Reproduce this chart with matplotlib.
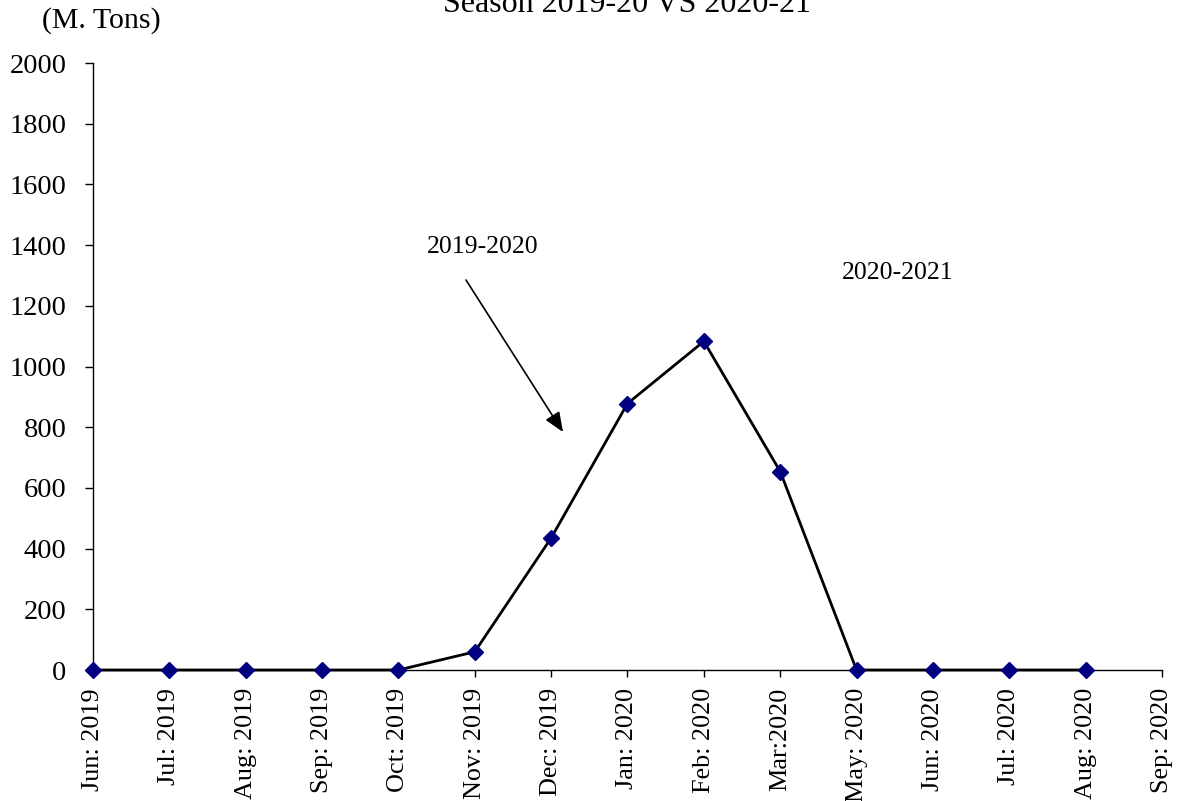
import numpy as np
import matplotlib
matplotlib.use("Agg")
import matplotlib.pyplot as plt

plt.rcParams['font.family'] = ['Liberation Serif', 'DejaVu Serif']

categories = ["Jun: 2019", "Jul: 2019", "Aug: 2019", "Sep: 2019", "Oct: 2019",
              "Nov: 2019", "Dec: 2019", "Jan: 2020", "Feb: 2020", "Mar:2020",
              "May: 2020", "Jun: 2020", "Jul: 2020", "Aug: 2020", "Sep: 2020"]
values_2019_20 = [0, 0, 0, 0, 0, 60, 435, 878, 1083, 654, 0, 0, 0, 0, np.nan]
y_ticks = [0, 200, 400, 600, 800, 1000, 1200, 1400, 1600, 1800, 2000]

W, H = 1178, 801
fig = plt.figure(figsize=(W / 100, H / 100), dpi=100)
ax = fig.add_axes([93 / W, 1 - 670 / H, (1162 - 93) / W, (670 - 63) / H])

x = np.arange(len(categories))
ax.plot(x, values_2019_20, color='black', lw=2.0, marker='D', markersize=8,
        markerfacecolor='#000080', markeredgecolor='#000080', zorder=3, clip_on=False)

ax.set_xlim(0, len(categories) - 1)
ax.set_ylim(0, 2000)
ax.set_yticks(y_ticks)
ax.set_xticks(x)
ax.set_xticklabels(categories, rotation=90, fontsize=18.8)
ax.tick_params(axis='y', labelsize=20.5, length=6, width=1, direction='out', pad=13)
ax.tick_params(axis='x', length=5, width=1, direction='out', pad=8)
for s in ['top', 'right']:
    ax.spines[s].set_visible(False)
for s in ['left', 'bottom']:
    ax.spines[s].set_linewidth(1)

ax.annotate('', xy=(6.155, 784), xytext=(4.885, 1285),
            arrowprops=dict(arrowstyle='-|>,head_length=0.6,head_width=0.25',
                            mutation_scale=20, color='black', lw=1.2,
                            shrinkA=0, shrinkB=0))
ax.text(5.10, 1394, '2019-2020', fontsize=18.5, ha='center', va='center')
ax.text(10.54, 1308, '2020-2021', fontsize=18.5, ha='center', va='center')

fig.text(101 / W, 1 - 21 / H, '(M. Tons)', fontsize=21.5, ha='center', va='center')
fig.text(627 / W, 1 - 12 / H, 'Season 2019-20 VS 2020-21', fontsize=23,
         ha='center', va='baseline')

fig.savefig('out.png', dpi=100)
